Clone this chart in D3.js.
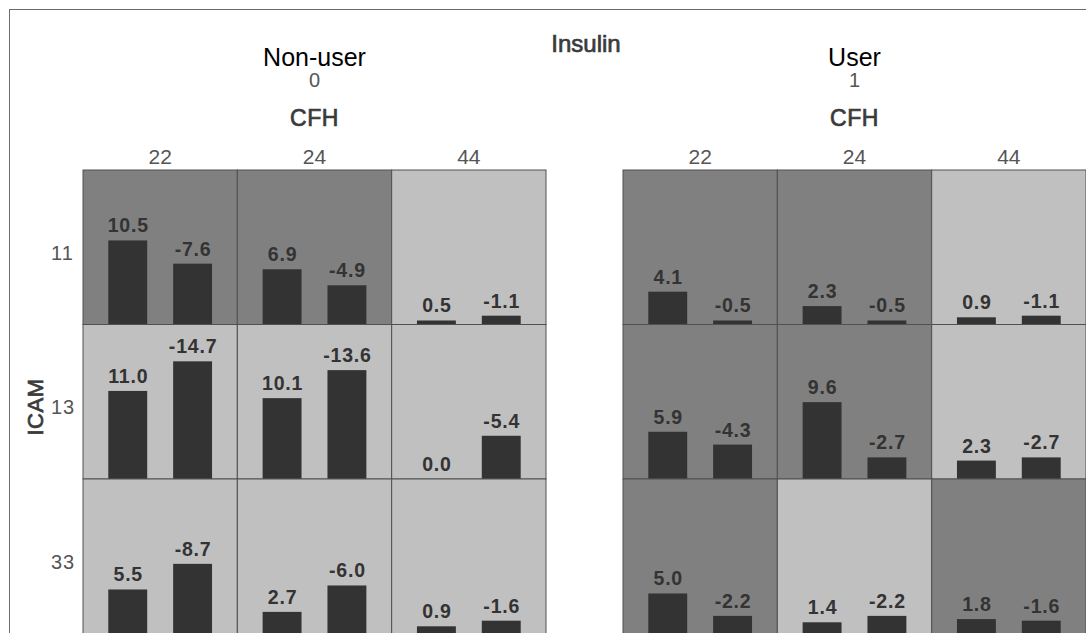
<!DOCTYPE html>
<html>
<head>
<meta charset="utf-8">
<script src="https://cdn.jsdelivr.net/npm/d3@7"></script>
<style>
  html, body { margin: 0; padding: 0; background: #ffffff; }
  svg { display: block; font-family: "Liberation Sans", Arial, sans-serif; }
</style>
</head>
<body>
<svg id="chart" width="1086" height="633"></svg>
<script>
// Panels (Insulin), columns (CFH) and rows (ICAM)
const panelNames = ["Non-user", "User"];
const panelCodes = ["0", "1"];
const cfhLevels = ["22", "24", "44"];
const icamLevels = ["11", "13", "33"];
const seriesKeys = ["first", "second"];

// Cell values, row-major: ICAM row × CFH column
const nonUserFirst  = [10.5, 6.9, 0.5, 11.0, 10.1, 0.0, 5.5, 2.7, 0.9];
const nonUserSecond = [-7.6, -4.9, -1.1, -14.7, -13.6, -5.4, -8.7, -6.0, -1.6];
const userFirst     = [4.1, 2.3, 0.9, 5.9, 9.6, 2.3, 5.0, 1.4, 1.8];
const userSecond    = [-0.5, -0.5, -1.1, -4.3, -2.7, -2.7, -2.2, -2.2, -1.6];

// Cell group (background shading), row-major
const nonUserGroup = ["high", "high", "low", "low", "low", "low", "low", "low", "low"];
const userGroup    = ["high", "high", "low", "high", "high", "low", "high", "low", "high"];

const panelFirst = [nonUserFirst, userFirst];
const panelSecond = [nonUserSecond, userSecond];
const panelGroup = [nonUserGroup, userGroup];

const fmt = d3.formatLocale({ decimal: ".", thousands: ",", grouping: [3], currency: ["", ""], minus: "-" }).format(".1f");

const svg = d3.select("#chart");

// Outer frame
svg.append("rect")
  .attr("x", 9.5).attr("y", 9.5)
  .attr("width", 1200).attr("height", 800)
  .attr("fill", "none").attr("stroke", "#6b6b6b");

const gridTop = 170, gridBottom = 633.5;
const panelLeft = d3.scaleOrdinal().domain(panelNames).range([83, 623]);
const panelWidth = 463;

const colScale = d3.scaleBand().domain(cfhLevels).range([0, panelWidth]);
const rowScale = d3.scaleBand().domain(icamLevels).range([gridTop, gridBottom]);
const cellW = colScale.bandwidth();
const cellH = rowScale.bandwidth();

const barX = d3.scaleBand().domain(seriesKeys).range([0, cellW]).paddingInner(0.4).paddingOuter(0.39);
const barY = d3.scaleLinear().domain([0, 19.3]).range([cellH, 0]);

const groupFill = d3.scaleOrdinal().domain(["high", "low"]).range(["#808080", "#c0c0c0"]);

// Semi-bold titles: regular face with a thin outline of the same colour
function semibold(sel, color) {
  return sel.attr("font-weight", "normal")
    .attr("fill", color)
    .attr("stroke", color)
    .attr("stroke-width", 0.7)
    .attr("paint-order", "stroke");
}

// Top title
semibold(svg.append("text")
  .attr("x", 586).attr("y", 52)
  .attr("text-anchor", "middle")
  .attr("font-size", 24)
  .text("Insulin"), "#3a3a3a");

// Row axis title
semibold(svg.append("text")
  .attr("transform", "translate(43,407) rotate(-90)")
  .attr("text-anchor", "middle")
  .attr("font-size", 22)
  .attr("letter-spacing", 0.5)
  .text("ICAM"), "#3a3a3a");

// Row labels
svg.selectAll("text.rowlab")
  .data(icamLevels)
  .join("text")
  .attr("class", "rowlab")
  .attr("x", 51)
  .attr("y", d => rowScale(d) + cellH / 2 + 12.5)
  .attr("font-size", 20)
  .attr("fill", "#555")
  .attr("letter-spacing", 1)
  .text(d => d);

panelNames.forEach((pname, pi) => {
  const left = panelLeft(pname);
  const g = svg.append("g").attr("transform", `translate(${left},0)`);
  const cx = panelWidth / 2;

  g.append("text")
    .attr("x", cx).attr("y", 66)
    .attr("text-anchor", "middle")
    .attr("font-size", 25).attr("fill", "#000")
    .text(pname);
  g.append("text")
    .attr("x", cx).attr("y", 87)
    .attr("text-anchor", "middle")
    .attr("font-size", 20).attr("fill", "#555")
    .text(panelCodes[pi]);
  semibold(g.append("text")
    .attr("x", cx).attr("y", 126)
    .attr("text-anchor", "middle")
    .attr("font-size", 23)
    .attr("letter-spacing", 0.5)
    .text("CFH"), "#3a3a3a");

  g.selectAll("text.collab")
    .data(cfhLevels)
    .join("text")
    .attr("class", "collab")
    .attr("x", d => colScale(d) + cellW / 2)
    .attr("y", 164)
    .attr("text-anchor", "middle")
    .attr("font-size", 21).attr("fill", "#555")
    .text(d => d);

  const cells = [];
  icamLevels.forEach((r, ri) => {
    cfhLevels.forEach((c, ci) => {
      const k = ri * cfhLevels.length + ci;
      cells.push({
        row: r, col: c,
        group: panelGroup[pi][k],
        values: [panelFirst[pi][k], panelSecond[pi][k]]
      });
    });
  });

  const cell = g.selectAll("g.cell")
    .data(cells)
    .join("g")
    .attr("class", "cell")
    .attr("transform", d => `translate(${colScale(d.col)},${rowScale(d.row)})`);

  cell.append("rect")
    .attr("width", cellW).attr("height", cellH)
    .attr("fill", d => groupFill(d.group));

  const bars = cell.selectAll("g.bar")
    .data(d => d.values.map((v, i) => ({ key: seriesKeys[i], value: v })))
    .join("g").attr("class", "bar");

  bars.append("rect")
    .attr("x", d => barX(d.key))
    .attr("y", d => barY(Math.abs(d.value)))
    .attr("width", barX.bandwidth())
    .attr("height", d => cellH - barY(Math.abs(d.value)))
    .attr("fill", "#333333");

  bars.append("text")
    .attr("x", d => barX(d.key) + barX.bandwidth() / 2 + 0.5)
    .attr("y", d => barY(Math.abs(d.value)) - 8)
    .attr("text-anchor", "middle")
    .attr("font-size", 19.5).attr("font-weight", "bold")
    .attr("letter-spacing", 0.8)
    .attr("fill", "#333333")
    .text(d => fmt(d.value));

  // Cell borders drawn on top
  cell.append("rect")
    .attr("width", cellW).attr("height", cellH)
    .attr("fill", "none")
    .attr("stroke", "#505050").attr("stroke-width", 1);
});
</script>
</body>
</html>
